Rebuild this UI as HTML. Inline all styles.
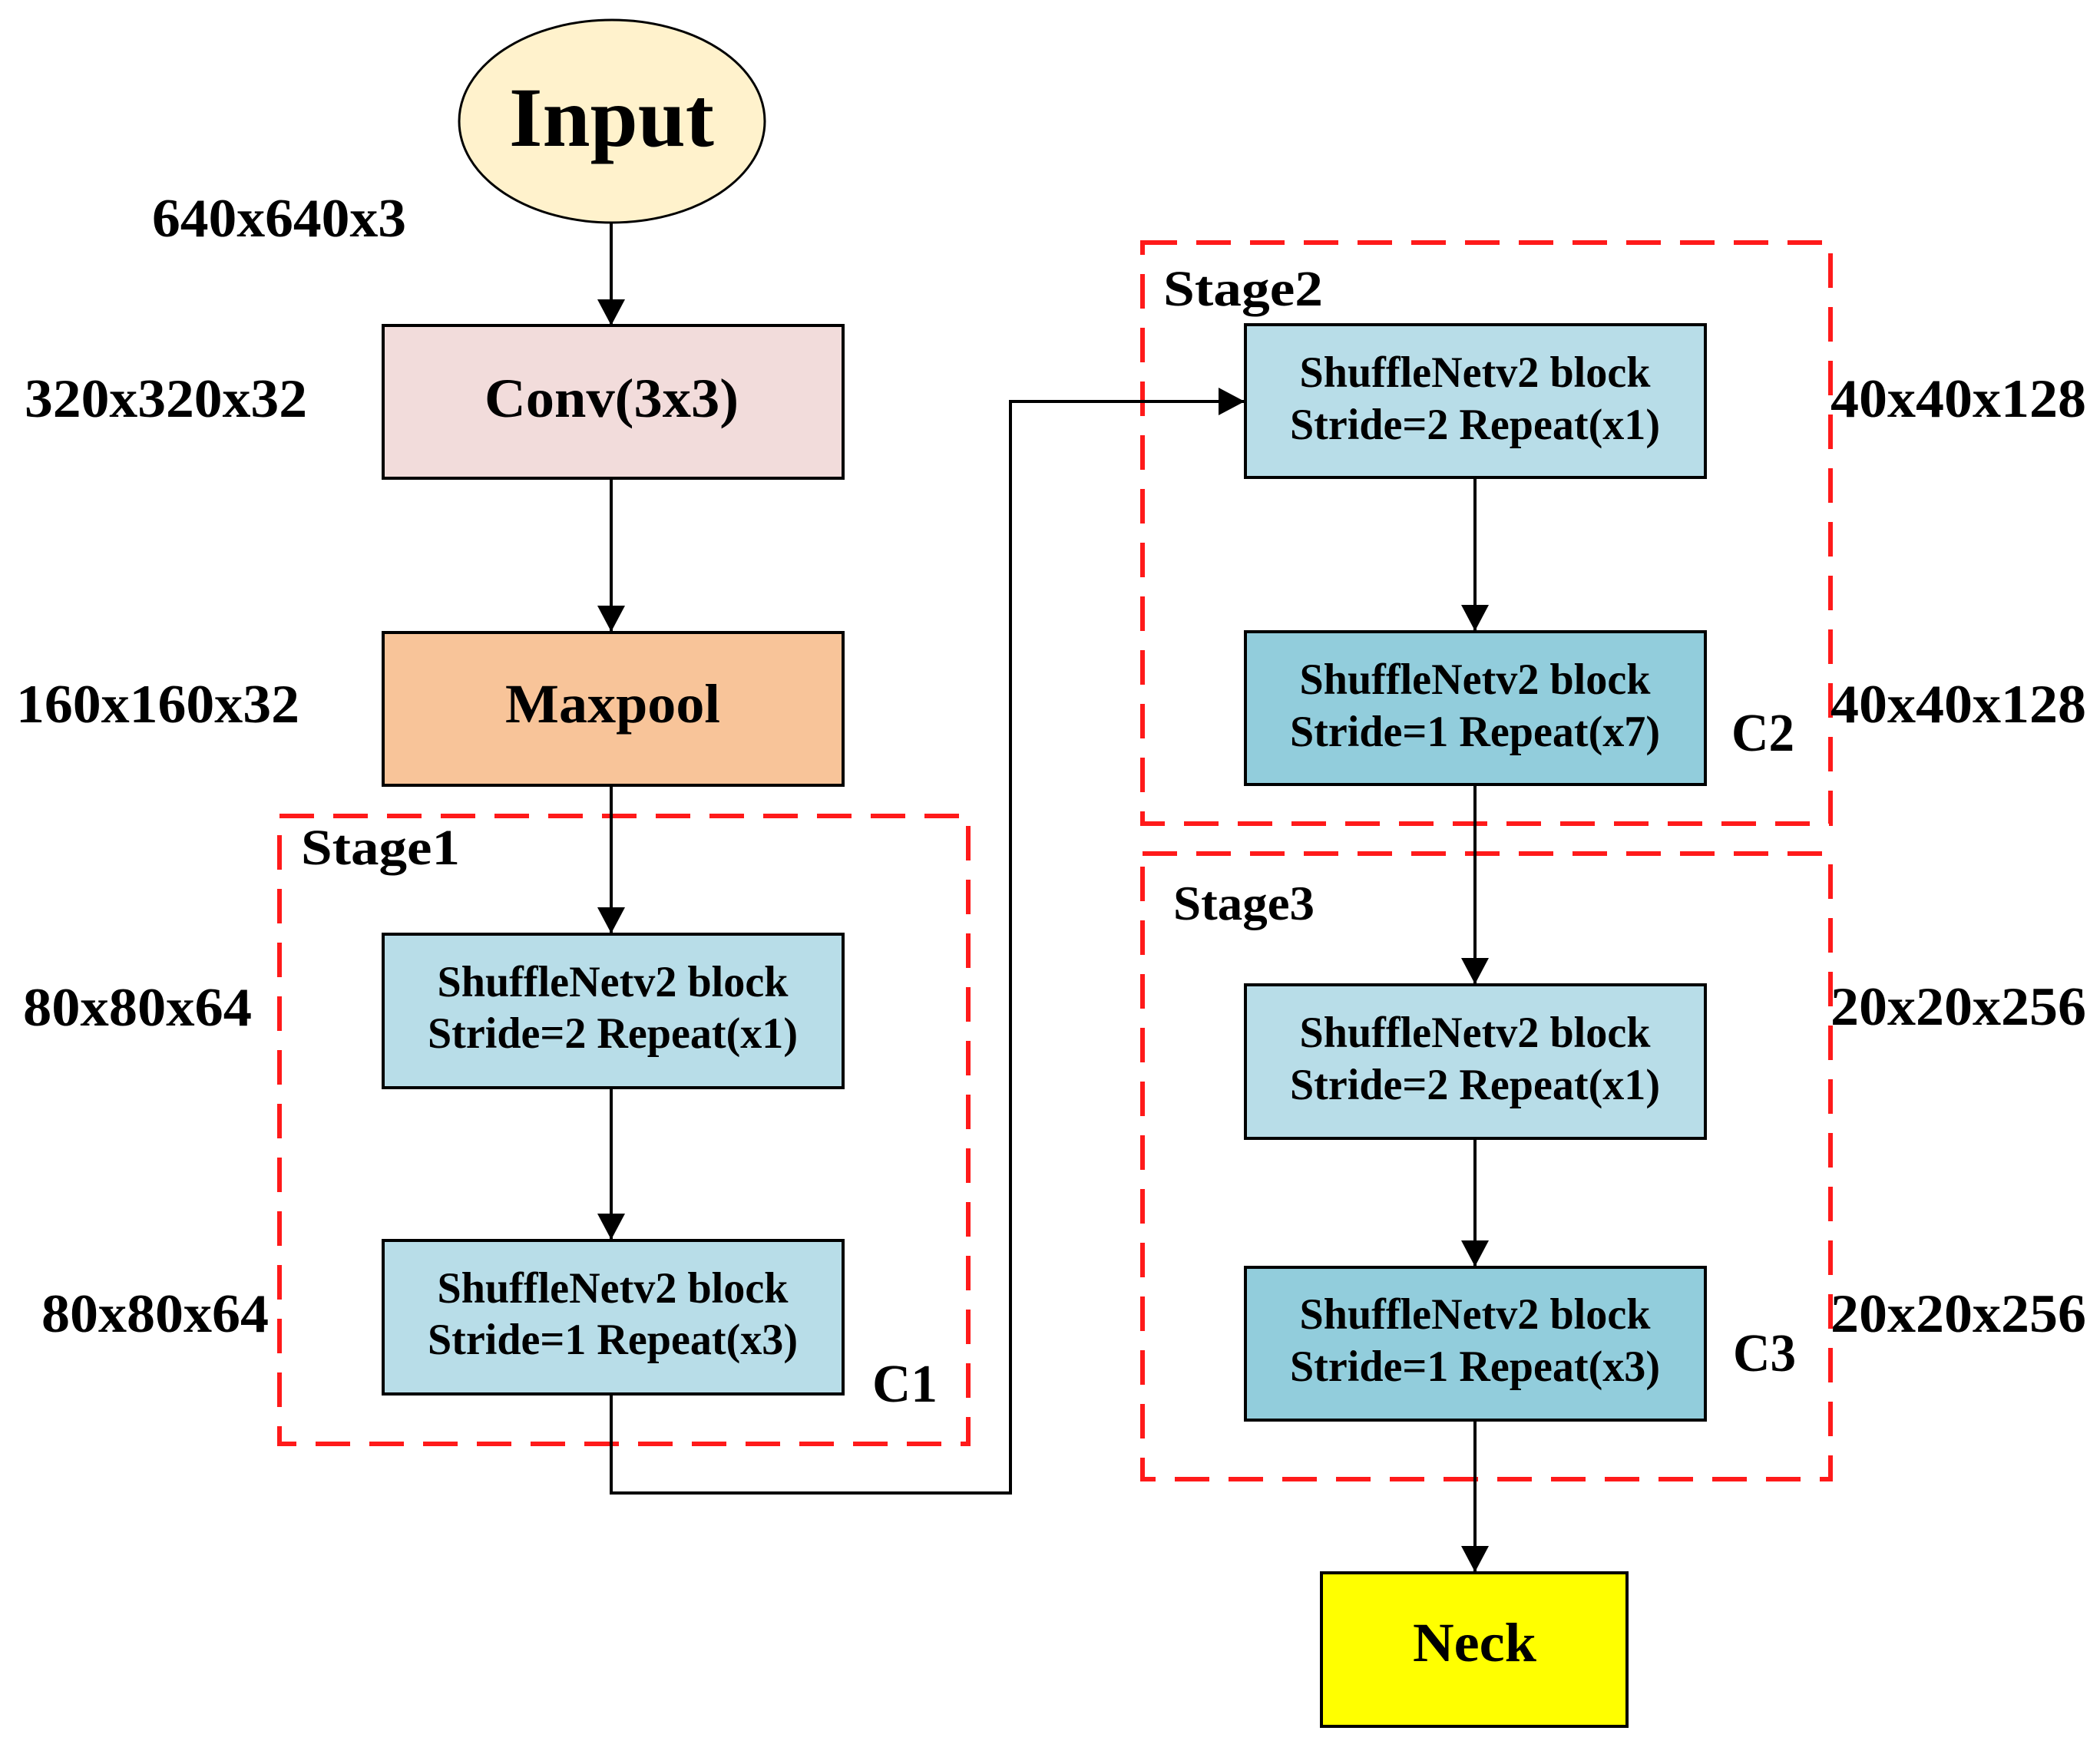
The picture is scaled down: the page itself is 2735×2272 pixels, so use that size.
<!DOCTYPE html>
<html><head><meta charset="utf-8"><style>html,body{margin:0;padding:0;background:#fff}svg{display:block}</style></head>
<body>
<svg width="2735" height="2272" viewBox="0 0 2735 2272" xmlns="http://www.w3.org/2000/svg" font-family="'Liberation Serif', serif" font-weight="bold" fill="#000">
<defs>
<marker id="a" markerUnits="userSpaceOnUse" markerWidth="34" markerHeight="36" refX="33" refY="18" orient="auto">
<path d="M0,0 L34,18 L0,36 z" fill="#000"/>
</marker>
</defs>
<g fill="none" stroke="#ff1a1a" stroke-width="6" stroke-dasharray="45,25">
<rect x="364" y="1063" width="897" height="818"/>
<rect x="1488" y="316" width="896" height="757"/>
<rect x="1488" y="1112" width="896" height="815"/>
</g>
<g stroke="#000" stroke-width="4" fill="none">
<line x1="796" y1="290" x2="796" y2="423" marker-end="url(#a)"/>
<line x1="796" y1="623" x2="796" y2="822" marker-end="url(#a)"/>
<line x1="796" y1="1023" x2="796" y2="1215" marker-end="url(#a)"/>
<line x1="796" y1="1417" x2="796" y2="1614" marker-end="url(#a)"/>
<polyline points="796,1816 796,1945 1316,1945 1316,523 1620,523" marker-end="url(#a)"/>
<line x1="1921" y1="622" x2="1921" y2="821" marker-end="url(#a)"/>
<line x1="1921" y1="1022" x2="1921" y2="1281" marker-end="url(#a)"/>
<line x1="1921" y1="1483" x2="1921" y2="1649" marker-end="url(#a)"/>
<line x1="1921" y1="1850" x2="1921" y2="2047" marker-end="url(#a)"/>
</g>
<g stroke="#000" stroke-width="4">
<ellipse cx="797" cy="158" rx="199" ry="132" fill="#fff2cc" stroke-width="3"/>
<rect x="499" y="424" width="599" height="199" fill="#f2dcdb"/>
<rect x="499" y="824" width="599" height="199" fill="#f8c499"/>
<rect x="499" y="1217" width="599" height="200" fill="#b8dde8"/>
<rect x="499" y="1616" width="599" height="200" fill="#b8dde8"/>
<rect x="1622" y="423" width="599" height="199" fill="#b8dde8"/>
<rect x="1622" y="823" width="599" height="199" fill="#92cddc"/>
<rect x="1622" y="1283" width="599" height="200" fill="#b8dde8"/>
<rect x="1622" y="1651" width="599" height="199" fill="#92cddc"/>
<rect x="1721" y="2049" width="398" height="200" fill="#ffff00"/>
</g>
<g>
<text x="663" y="190" font-size="110" textLength="267" lengthAdjust="spacingAndGlyphs">Input</text>
<text x="631" y="543" font-size="72" textLength="331" lengthAdjust="spacingAndGlyphs">Conv(3x3)</text>
<text x="658" y="941" font-size="72" textLength="280" lengthAdjust="spacingAndGlyphs">Maxpool</text>
<text x="198" y="308" font-size="71" textLength="331" lengthAdjust="spacingAndGlyphs">640x640x3</text>
<text x="32" y="543" font-size="71" textLength="368" lengthAdjust="spacingAndGlyphs">320x320x32</text>
<text x="21" y="941" font-size="71" textLength="369" lengthAdjust="spacingAndGlyphs">160x160x32</text>
<text x="30" y="1336" font-size="71" textLength="298" lengthAdjust="spacingAndGlyphs">80x80x64</text>
<text x="54" y="1735" font-size="71" textLength="296" lengthAdjust="spacingAndGlyphs">80x80x64</text>
<text x="392" y="1126" font-size="66" textLength="207" lengthAdjust="spacingAndGlyphs">Stage1</text>
<text x="1515" y="398" font-size="66" textLength="208" lengthAdjust="spacingAndGlyphs">Stage2</text>
<text x="1528" y="1198" font-size="64" textLength="184" lengthAdjust="spacingAndGlyphs">Stage3</text>
<text x="1136" y="1826" font-size="70" textLength="85" lengthAdjust="spacingAndGlyphs">C1</text>
<text x="2255" y="978" font-size="70" textLength="82" lengthAdjust="spacingAndGlyphs">C2</text>
<text x="2257" y="1786" font-size="70" textLength="82" lengthAdjust="spacingAndGlyphs">C3</text>
<text x="2384" y="543" font-size="71" textLength="333" lengthAdjust="spacingAndGlyphs">40x40x128</text>
<text x="2384" y="941" font-size="71" textLength="333" lengthAdjust="spacingAndGlyphs">40x40x128</text>
<text x="2384" y="1335" font-size="71" textLength="333" lengthAdjust="spacingAndGlyphs">20x20x256</text>
<text x="2384" y="1735" font-size="71" textLength="333" lengthAdjust="spacingAndGlyphs">20x20x256</text>
<text x="1840" y="2164" font-size="72" textLength="161" lengthAdjust="spacingAndGlyphs">Neck</text>
</g>
<g font-size="57" text-anchor="middle">
<text x="798" y="1298" textLength="457" lengthAdjust="spacingAndGlyphs">ShuffleNetv2 block</text>
<text x="798" y="1365" textLength="482" lengthAdjust="spacingAndGlyphs">Stride=2 Repeat(x1)</text>
<text x="798" y="1697" textLength="457" lengthAdjust="spacingAndGlyphs">ShuffleNetv2 block</text>
<text x="798" y="1764" textLength="482" lengthAdjust="spacingAndGlyphs">Stride=1 Repeat(x3)</text>
<text x="1921" y="504" textLength="457" lengthAdjust="spacingAndGlyphs">ShuffleNetv2 block</text>
<text x="1921" y="572" textLength="482" lengthAdjust="spacingAndGlyphs">Stride=2 Repeat(x1)</text>
<text x="1921" y="904" textLength="457" lengthAdjust="spacingAndGlyphs">ShuffleNetv2 block</text>
<text x="1921" y="972" textLength="482" lengthAdjust="spacingAndGlyphs">Stride=1 Repeat(x7)</text>
<text x="1921" y="1364" textLength="457" lengthAdjust="spacingAndGlyphs">ShuffleNetv2 block</text>
<text x="1921" y="1432" textLength="482" lengthAdjust="spacingAndGlyphs">Stride=2 Repeat(x1)</text>
<text x="1921" y="1731" textLength="457" lengthAdjust="spacingAndGlyphs">ShuffleNetv2 block</text>
<text x="1921" y="1799" textLength="482" lengthAdjust="spacingAndGlyphs">Stride=1 Repeat(x3)</text>
</g>
</svg>
</body></html>
